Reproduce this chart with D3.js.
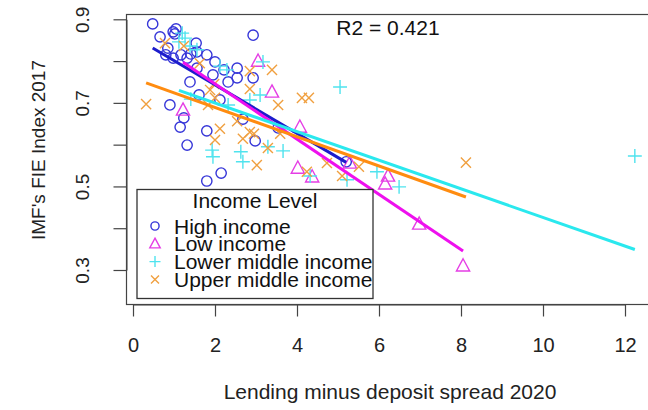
<!DOCTYPE html>
<html>
<head>
<meta charset="utf-8">
<script src="https://cdn.jsdelivr.net/npm/d3@7"></script>
<style>
  html, body { margin: 0; padding: 0; background: #fff; }
  svg { display: block; font-family: "Liberation Sans", Arial, Helvetica, sans-serif; }
</style>
</head>
<body>
<svg id="chart" width="648" height="410"></svg>
<script>
// Lending-deposit spread (x) vs FIE index (y), by income level
const groups = ["High income", "Low income", "Lower middle income", "Upper middle income"];

const highX = [0.48, 0.66, 0.98, 1.05, 1.02, 0.85, 0.80, 0.98, 1.17, 1.32, 1.54, 1.56, 1.56, 1.80, 2.00, 1.95, 1.39, 1.61,
               0.90, 1.24, 1.15, 1.32, 1.80, 2.32, 2.54, 2.54, 2.93, 2.93, 2.68, 2.98, 2.15, 1.80, 3.54, 5.20, 2.12, 1.41, 2.22];
const highY = [0.889, 0.858, 0.870, 0.877, 0.865, 0.831, 0.815, 0.807, 0.815, 0.807, 0.843, 0.822, 0.783, 0.815, 0.798, 0.767, 0.750, 0.719,
               0.695, 0.664, 0.642, 0.599, 0.633, 0.750, 0.760, 0.783, 0.862, 0.760, 0.661, 0.609, 0.532, 0.513, 0.640, 0.559, 0.707, 0.817, 0.779];

const lowX = [1.22, 3.05, 3.39, 4.07, 4.02, 4.37, 5.29, 6.22, 6.15, 6.98, 8.05];
const lowY = [0.683, 0.800, 0.726, 0.642, 0.544, 0.523, 0.556, 0.525, 0.506, 0.410, 0.310];

const lowerMidX = [1.20, 1.27, 1.12, 1.56, 1.39, 2.29, 3.10, 3.17, 2.85, 2.32, 1.41, 1.93, 1.95, 2.63, 2.68, 3.29, 3.66,
                   5.05, 4.32, 5.22, 5.95, 6.49, 12.24, 2.12];
const lowerMidY = [0.867, 0.855, 0.846, 0.827, 0.836, 0.779, 0.719, 0.798, 0.707, 0.695, 0.709, 0.587, 0.571, 0.583, 0.559, 0.595, 0.585,
                   0.738, 0.525, 0.516, 0.535, 0.499, 0.573, 0.788];

const upperMidX = [0.32, 0.78, 1.24, 1.63, 1.98, 1.88, 2.00, 1.83, 2.12, 2.00, 2.54, 2.68, 2.85, 2.95, 2.85, 2.85, 3.39, 3.54,
                   4.12, 4.29, 3.02, 3.29, 4.73, 5.10, 5.51, 8.12, 3.59, 4.24];
const upperMidY = [0.697, 0.843, 0.836, 0.795, 0.745, 0.731, 0.712, 0.695, 0.638, 0.611, 0.656, 0.614, 0.630, 0.626, 0.776, 0.733, 0.779, 0.695,
                   0.712, 0.712, 0.551, 0.592, 0.556, 0.525, 0.547, 0.557, 0.626, 0.535];

// Fitted line per group: intercept and slope
const fitIntercept = [0.8590, 0.8777, 0.7681, 0.7592];
const fitSlope = [-0.05797, -0.06613, -0.03424, -0.03504];

const xTicks = [0, 2, 4, 6, 8, 10, 12];
const yTicks = [0.3, 0.4, 0.5, 0.6, 0.7, 0.8, 0.9];
const yTickLabels = ["0.3", "", "0.5", "", "0.7", "", "0.9"];
const r2Label = "R2 = 0.421";
const xTitle = "Lending minus deposit spread 2020";
const yTitle = "IMF's FIE Index 2017";
const legendTitle = "Income Level";

const pointColors = ["#3535d8", "#e53ee5", "#4fe3ee", "#f0a040"];
const lineColors = ["#1c1ccc", "#ee10ee", "#2ae8ee", "#ff8c10"];
const shapes = ["circle", "triangle", "plus", "cross"];

const series = [
  { xs: highX, ys: highY },
  { xs: lowX, ys: lowY },
  { xs: lowerMidX, ys: lowerMidY },
  { xs: upperMidX, ys: upperMidY }
];

const svg = d3.select("#chart");
const box = { left: 126, top: 14, right: 660, bottom: 304 };

const x = d3.scaleLinear().domain([0, 12]).range([133, 625]);
const y = d3.scaleLinear().domain([0.3, 0.9]).range([270, 19.3]);

function symbolPath(shape, s) {
  if (shape === "triangle") {
    const h = s * 0.95;
    return `M0,${-h * 0.62}L${s * 0.55},${h * 0.45}L${-s * 0.55},${h * 0.45}Z`;
  }
  if (shape === "plus") {
    const a = s * 0.58;
    return `M${-a},0L${a},0M0,${-a}L0,${a}`;
  }
  if (shape === "cross") {
    const a = s * 0.42;
    return `M${-a},${-a}L${a},${a}M${-a},${a}L${a},${-a}`;
  }
  return null;
}

function drawSymbol(g, shape, color, cx, cy, s) {
  if (shape === "circle") {
    g.append("circle").attr("cx", cx).attr("cy", cy).attr("r", s * 0.43)
      .attr("fill", "none").attr("stroke", color).attr("stroke-width", 1.4);
  } else {
    g.append("path").attr("d", symbolPath(shape, s))
      .attr("transform", `translate(${cx},${cy})`)
      .attr("fill", "none").attr("stroke", color).attr("stroke-width", 1.4);
  }
}

// clip for marks inside the plot box
svg.append("defs").append("clipPath").attr("id", "plotclip")
  .append("rect").attr("x", box.left).attr("y", box.top)
  .attr("width", box.right - box.left).attr("height", box.bottom - box.top);

const marks = svg.append("g").attr("clip-path", "url(#plotclip)");

// points
series.forEach((sr, gi) => {
  const g = marks.append("g");
  sr.xs.forEach((xv, i) => {
    drawSymbol(g, shapes[gi], pointColors[gi], x(xv), y(sr.ys[i]), 12);
  });
});

// fitted lines over each group's x range
series.forEach((sr, gi) => {
  const [x0, x1] = d3.extent(sr.xs);
  const f = v => fitIntercept[gi] + fitSlope[gi] * v;
  marks.append("line")
    .attr("x1", x(x0)).attr("y1", y(f(x0)))
    .attr("x2", x(x1)).attr("y2", y(f(x1)))
    .attr("stroke", lineColors[gi]).attr("stroke-width", 3);
});

// plot box
svg.append("rect")
  .attr("x", box.left + 0.5).attr("y", box.top + 0.5)
  .attr("width", box.right - box.left).attr("height", box.bottom - box.top)
  .attr("fill", "none").attr("stroke", "#444").attr("stroke-width", 1.2);

// x axis
const xAxis = svg.append("g").attr("transform", `translate(0,${box.bottom + 0.5})`)
  .call(d3.axisBottom(x).tickValues(xTicks).tickSize(12).tickSizeOuter(0).tickFormat(d3.format("d")));
xAxis.select(".domain").attr("stroke", "#444");
xAxis.selectAll(".tick line").attr("stroke", "#444").attr("stroke-width", 1.2);
xAxis.selectAll(".tick text").attr("font-size", 20).attr("fill", "#222")
  .attr("font-family", "'Liberation Sans', Arial, sans-serif").attr("y", 47).attr("dy", 0);

// y axis
const yAxis = svg.append("g").attr("transform", `translate(${box.left + 0.5},0)`)
  .call(d3.axisLeft(y).tickValues(yTicks).tickSize(13).tickSizeOuter(0)
    .tickFormat((d, i) => yTickLabels[i]));
yAxis.select(".domain").attr("stroke", "#444");
yAxis.selectAll(".tick line").attr("stroke", "#444").attr("stroke-width", 1.2);
yAxis.selectAll(".tick text").attr("font-size", 19).attr("fill", "#222")
  .attr("font-family", "'Liberation Sans', Arial, sans-serif")
  .attr("x", 0).attr("dy", 0).attr("text-anchor", "middle")
  .attr("transform", "translate(-38,0) rotate(-90)");

// axis titles
svg.append("text").attr("x", 390).attr("y", 399).attr("text-anchor", "middle")
  .attr("font-size", 21).attr("fill", "#222").text(xTitle);
svg.append("text").attr("transform", "translate(45,150) rotate(-90)").attr("text-anchor", "middle")
  .attr("font-size", 19).attr("fill", "#222").text(yTitle);

// R2 annotation
svg.append("text").attr("x", 388).attr("y", 35).attr("text-anchor", "middle")
  .attr("font-size", 21).attr("fill", "#111").text(r2Label);

// legend
const lg = svg.append("g");
lg.append("rect").attr("x", 137).attr("y", 189.5).attr("width", 236).attr("height", 109)
  .attr("fill", "#fff").attr("stroke", "#333").attr("stroke-width", 1.3);
lg.append("text").attr("x", 255).attr("y", 208).attr("text-anchor", "middle")
  .attr("font-size", 21).attr("fill", "#111").text(legendTitle);
groups.forEach((name, i) => {
  const cy = 226 + i * 17.8;
  drawSymbol(lg, shapes[i], pointColors[i], 155, cy, 9.5);
  lg.append("text").attr("x", 174).attr("y", cy + 7.5)
    .attr("font-size", 21).attr("fill", "#111").text(name);
});
</script>
</body>
</html>
